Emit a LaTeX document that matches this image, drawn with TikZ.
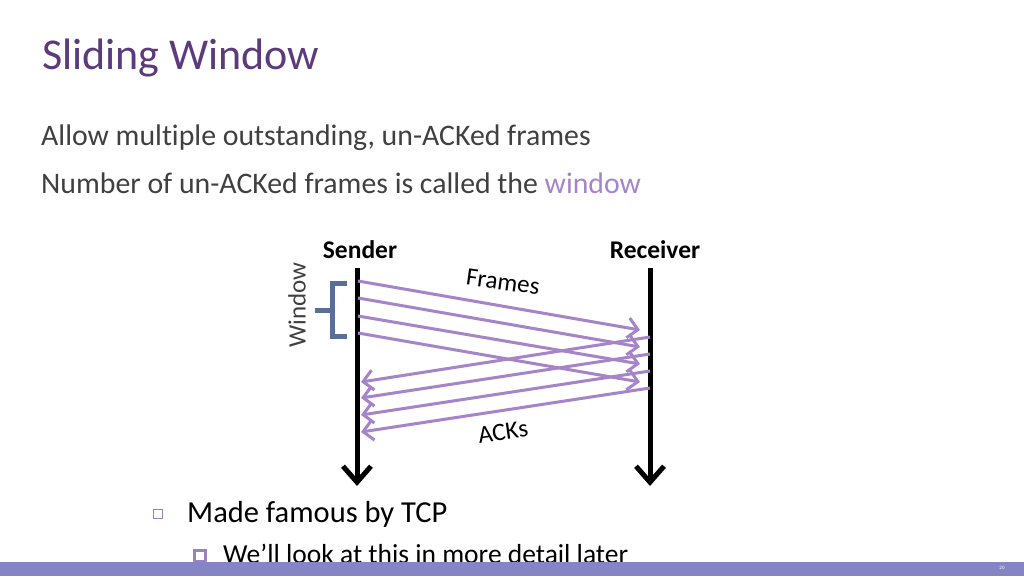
\documentclass[tikz,border=0pt]{standalone}
\usepackage{fontspec}
\setmainfont{Carlito}[RawFeature=-liga]
\usetikzlibrary{arrows.meta}
\definecolor{titlecol}{HTML}{5B3B7C}
\definecolor{bodycol}{HTML}{404040}
\definecolor{accent}{HTML}{A585C8}
\definecolor{bracecol}{HTML}{5A6E9A}
\definecolor{barcol}{HTML}{8584C4}
\definecolor{bulletcol}{HTML}{9B82C0}
\tikzset{
  lifeline/.style={line width=5pt, -{Straight Barb[length=16pt,width=28pt,line width=5pt]}},
  msg/.style={accent, line width=3pt, -{Straight Barb[length=10pt,width=20pt,line width=3pt]}},
  lbl/.style={inner sep=0pt, font=\bfseries\fontsize{25.5}{30}\selectfont},
  dlbl/.style={inner sep=0pt, text=black, font=\fontsize{25}{30}\selectfont},
}
\begin{document}
\begin{tikzpicture}[x=1pt,y=-1pt]
\useasboundingbox (0,0) rectangle (1024,576);
\fill[white] (0,0) rectangle (1024,576);
% title and body
\node[anchor=base west, inner sep=0pt, text=titlecol, font=\fontsize{44}{52}\selectfont] (title) at (42,69) {Sliding Window};
\node[anchor=base west, inner sep=0pt, text=bodycol, font=\fontsize{29.8}{34}\selectfont] (l1) at (41,145) {Allow multiple outstanding, un-ACKed frames};
\node[anchor=base west, inner sep=0pt, text=bodycol, font=\fontsize{29.8}{34}\selectfont] (l2) at (41,193) {Number of un-ACKed frames is called the \textcolor{accent}{window}};
% lifelines
\node[lbl] (snd) at (360,250) {Sender};
\node[lbl] (rcv) at (655,250) {Receiver};
\coordinate (st) at (357,268); \coordinate (sb) at (357,486);
\coordinate (rt) at (650,268); \coordinate (rb) at (650,486);
\draw[lifeline] (st) -- (sb);
\draw[lifeline] (rt) -- (rb);
% frames
\foreach \i/\ys/\ye in {1/281/330, 2/298/347, 3/316/364, 4/333/382}{
  \coordinate (fa\i) at (358,\ys);
  \coordinate (fb\i) at (640,\ye);
}
\foreach \i in {1,...,4}{ \draw[msg] (fa\i) -- (fb\i); }
% acks
\foreach \i/\ys/\ye in {1/337/382, 2/354/398, 3/371/415, 4/388/432}{
  \coordinate (aa\i) at (650,\ys);
  \coordinate (ab\i) at (361,\ye);
}
\foreach \i in {1,...,4}{ \draw[msg] (aa\i) -- (ab\i); }
\node[dlbl, rotate=-8] (frm) at (503,282) {Frames};
\node[dlbl, rotate=8] (ack) at (503,432) {ACKs};
% window brace
\coordinate (wt) at (347,283); \coordinate (wb) at (347,336);
\coordinate (wm) at (315,310);
\draw[bracecol, line width=5pt] (wt) -- (332,283) -- (332,336) -- (wb);
\draw[bracecol, line width=5pt] (wm) -- (332,310);
\node[dlbl, text=bodycol, rotate=90] (win) at (297,305) {Window};
% bullets
\node[draw=bulletcol, line width=0.8pt, minimum size=9pt, inner sep=0pt] (b1) at (158,514) {};
\node[anchor=base west, inner sep=0pt, text=black, font=\fontsize{30.5}{34}\selectfont] (t1) at (187,522) {Made famous by TCP};
\node[draw=bulletcol, fill=white, line width=3pt, minimum size=11pt, inner sep=0pt] (b2) at (200,556) {};
\node[anchor=base west, inner sep=0pt, text=black, font=\fontsize{27.5}{32}\selectfont] (t2) at (223,563) {We’ll look at this in more detail later};
% bottom bar
\fill[barcol] (0,562) rectangle (1024,576);
\node[inner sep=0pt, text=white, font=\fontsize{5}{6}\selectfont] (pg) at (1002,568) {20};
\end{tikzpicture}
\end{document}
